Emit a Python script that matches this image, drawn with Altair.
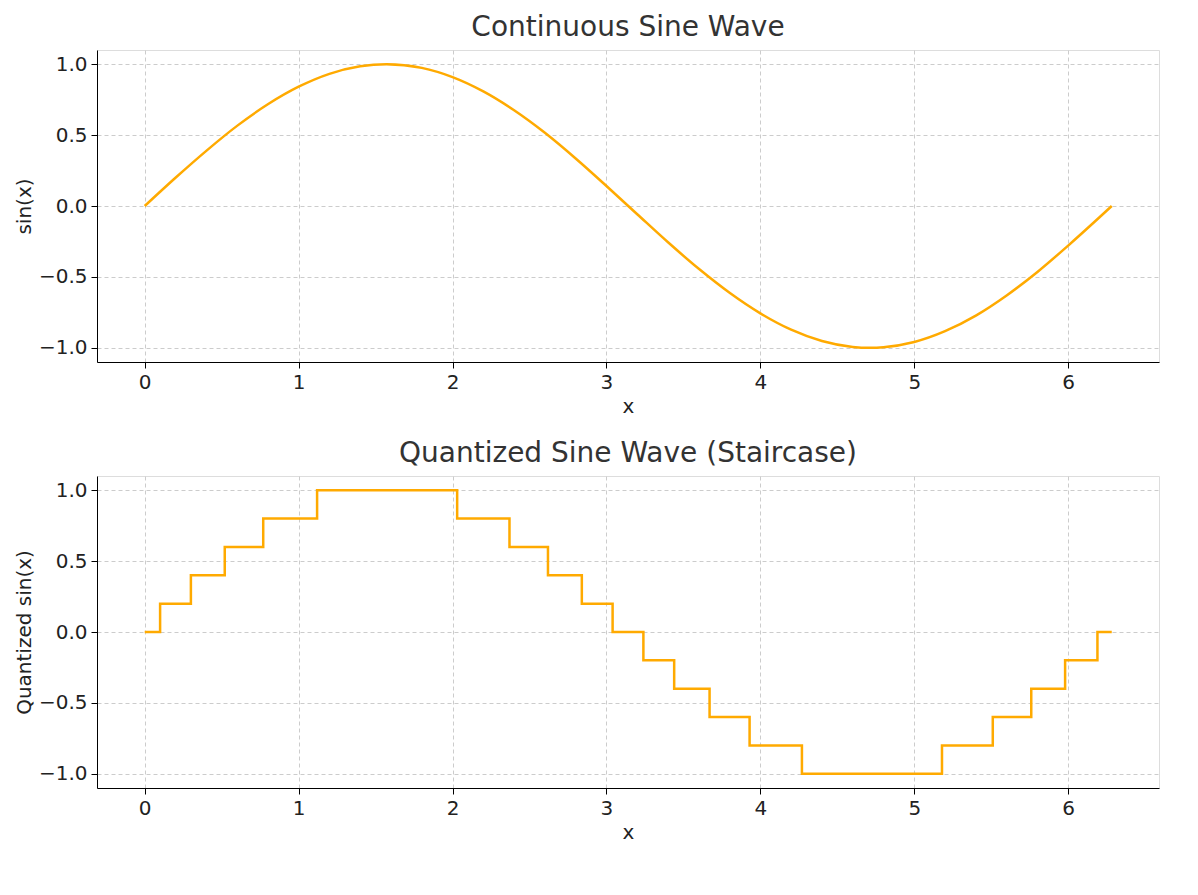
import altair as alt
import pandas as pd

sx = [0,0.2,0.4,0.6,0.8,1.0,1.2,1.4,1.571,1.8,2.0,2.2,2.4,2.6,2.8,3.0,3.2,3.4,3.6,3.8,4.0,4.2,4.4,4.6,4.712,4.8,5.0,5.2,5.4,5.6,5.8,6.0,6.2,6.283]
sy = [0,0.199,0.389,0.565,0.717,0.841,0.932,0.985,1.0,0.974,0.909,0.808,0.675,0.516,0.335,0.141,-0.058,-0.256,-0.443,-0.612,-0.757,-0.872,-0.952,-0.994,-1.0,-0.996,-0.959,-0.883,-0.773,-0.631,-0.465,-0.279,-0.083,0]

qx = [0,0.10,0.30,0.52,0.77,1.12,2.03,2.37,2.62,2.84,3.04,3.24,3.44,3.67,3.93,4.27,5.18,5.51,5.76,5.98,6.19,6.283]
qy = [0,0.2,0.4,0.6,0.8,1.0,0.8,0.6,0.4,0.2,0,-0.2,-0.4,-0.6,-0.8,-1.0,-0.8,-0.6,-0.4,-0.2,0,0]

color = "#FFAA00"
W, H = 1062, 312

def axis(vals, fmt, title):
    return alt.Axis(values=vals, format=fmt, title=title, grid=True,
                    gridDash=[4,3], gridColor="#cccccc", domainColor="black",
                    tickColor="black", tickSize=6, labelFontSize=20, titleFontSize=20,
                    titleFontWeight="normal", labelColor="#222", titleColor="#222",
                    labelPadding=4)

def panel(df, title, ytitle, interp):
    return alt.Chart(df, title=alt.Title(title, fontSize=28, fontWeight="normal", color="#333", offset=8)).mark_line(
        color=color, strokeWidth=2.5, interpolate=interp, clip=True).encode(
        x=alt.X("x:Q", scale=alt.Scale(domain=[-0.31, 6.59], nice=False, zero=False),
                axis=axis([0,1,2,3,4,5,6], "d", "x")),
        y=alt.Y("y:Q", scale=alt.Scale(domain=[-1.1, 1.1], nice=False),
                axis=axis([-1,-0.5,0,0.5,1], ".1f", ytitle)),
    ).properties(width=W, height=H)

top = panel(pd.DataFrame({"x": sx, "y": sy}), "Continuous Sine Wave", "sin(x)", "monotone")
bot = panel(pd.DataFrame({"x": qx, "y": qy}), "Quantized Sine Wave (Staircase)", "Quantized sin(x)", "step-after")

chart = alt.vconcat(top, bot, spacing=22).configure_view(strokeWidth=0).configure(font="DejaVu Sans")
chart.save("out.html", embed_options={"renderer": "svg", "actions": False})
